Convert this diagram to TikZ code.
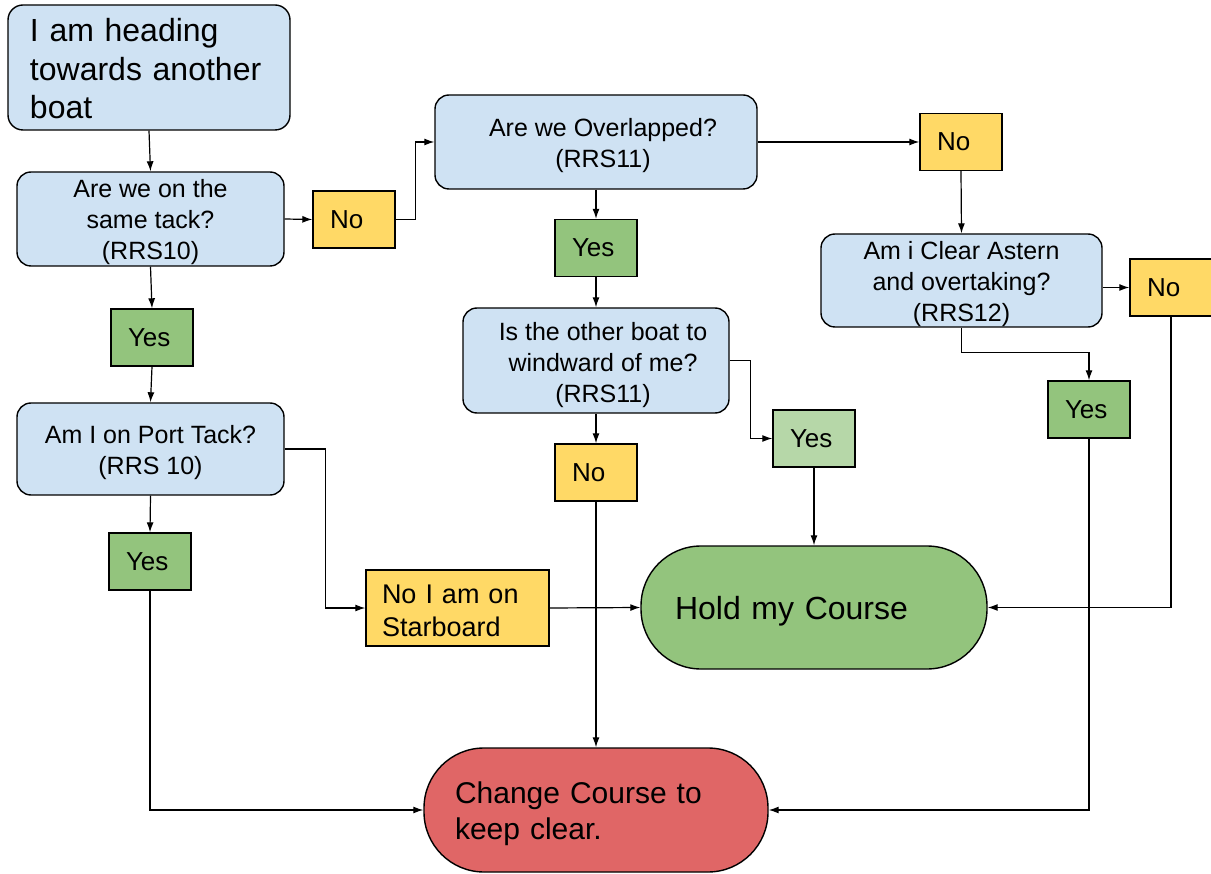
\documentclass[tikz,border=0pt]{standalone}
\usepackage{fontspec}
\setmainfont{Liberation Sans}
\usetikzlibrary{arrows.meta,calc}
\definecolor{qblue}{HTML}{CFE2F3}
\definecolor{ayellow}{HTML}{FFD966}
\definecolor{agreen}{HTML}{93C47D}
\definecolor{lgreen}{HTML}{B6D7A8}
\definecolor{tred}{HTML}{E06666}
\newcommand\tallrule[1]{\rule{0pt}{#1pt}}
\newcommand\nudge{\hspace*{14pt}}
\begin{document}
\begin{tikzpicture}[x=1pt,y=-1pt,
  base/.style={draw=black, line width=1.4pt, inner sep=0pt, anchor=center},
  qbox/.style={base, fill=qblue, rounded corners=14pt, align=center, font=\fontsize{25}{31}\selectfont},
  ans/.style={base, minimum width=82pt, minimum height=57pt, text width=48pt, inner xsep=17pt, align=left, font=\fontsize{26}{31}\selectfont},
  term/.style={base, rounded corners=60pt, align=left},
  conn/.style={line width=1.2pt, -{Latex[length=10pt,width=7pt]}}
]
\useasboundingbox (0,0) rectangle (1211,874);

% start
\node[base, fill=qblue, rounded corners=15pt, minimum width=282pt, minimum height=125pt,
      text width=238pt, inner xsep=22pt, align=left, font=\fontsize{32}{38.5}\selectfont]
      (start) at (149,67.5) {\tallrule{26}I am heading\\towards another\\boat};

% questions
\node[qbox, minimum width=267pt, minimum height=94pt] (q1) at (150.5,219) {\tallrule{24}Are we on the\\same tack?\\(RRS10)};
\node[qbox, minimum width=322pt, minimum height=94pt] (q2) at (596,142) {\nudge\tallrule{24.5}Are we Overlapped?\\\nudge(RRS11)};
\node[qbox, minimum width=266pt, minimum height=105pt] (q3) at (596,360.5) {\nudge\tallrule{27}Is the other boat to\\\nudge windward of me?\\\nudge(RRS11)};
\node[qbox, minimum width=281pt, minimum height=93pt] (q4) at (961.5,280.5) {\tallrule{24.5}Am i Clear Astern\\and overtaking?\\(RRS12)};
\node[qbox, minimum width=267pt, minimum height=92pt] (q5) at (150.5,449) {\tallrule{26}Am I on Port Tack?\\(RRS 10)};

% answers
\node[ans, fill=ayellow] (no1) at (354,219.5) {No};
\node[ans, fill=ayellow] (no2) at (961,142) {No};
\node[ans, fill=ayellow] (no3) at (1171,287.5) {No};
\node[ans, fill=ayellow] (no4) at (596,472.5) {No};
\node[ans, fill=agreen] (yes1) at (152,337.5) {Yes};
\node[ans, fill=agreen] (yes2) at (596,248) {Yes};
\node[ans, fill=lgreen] (yes3) at (814,438.5) {Yes};
\node[ans, fill=agreen] (yes4) at (1089,409.5) {Yes};
\node[ans, fill=agreen] (yes5) at (150,561.5) {Yes};
\node[base, fill=ayellow, minimum width=183pt, minimum height=76pt, text width=151pt, inner xsep=16pt,
      align=left, font=\fontsize{27}{33}\selectfont] (star) at (457.5,608) {\tallrule{23.5}No I am on\\Starboard};

% terminals
\node[term, fill=agreen, minimum width=346pt, minimum height=123pt, text width=278pt, inner xsep=34pt,
      font=\fontsize{32}{36}\selectfont] (hold) at (814,607.5) {\tallrule{31.5}Hold my Course};
\node[term, fill=tred, minimum width=344pt, minimum height=124pt, text width=282pt, inner xsep=31pt,
      font=\fontsize{30}{36}\selectfont] (change) at (596,810) {\tallrule{29}Change Course to\\keep clear.};

% connectors
\draw[conn] (start.south) -- (q1.north);
\draw[conn] (q1.east) -- (no1.west);
\draw[conn] (no1.east) -- ++(20,0) |- (q2.west);
\draw[conn] (q2.east) -- (no2.west);
\draw[conn] (q2.south) -- (yes2.north);
\draw[conn] (yes2.south) -- (q3.north);
\draw[conn] (no2.south) -- (q4.north);
\draw[conn] (no3.west -| q4.east) -- (no3.west);
\draw[conn] (q4.south) -- ++(0,25) -| (yes4.north);
\draw[conn] (q3.east) -- ++(21,0) |- (yes3.west);
\draw[conn] (q3.south) -- (no4.north);
\draw[conn] (yes3.south) -- (hold.north -| yes3.south);
\draw[conn] (no3.south) |- (hold.east);
\draw[conn] (yes4.south) |- (change.east);
\draw[conn] (no4.south) -- (change.north);
\draw[conn] (q1.south) -- (yes1.north);
\draw[conn] (yes1.south) -- (q5.north);
\draw[conn] (q5.south) -- (yes5.north);
\draw[conn] (q5.east) -- ++(41,0) |- (star.west);
\draw[conn] (star.east) -- (hold.west);
\draw[conn] (yes5.south) |- (change.west);
\end{tikzpicture}
\end{document}
